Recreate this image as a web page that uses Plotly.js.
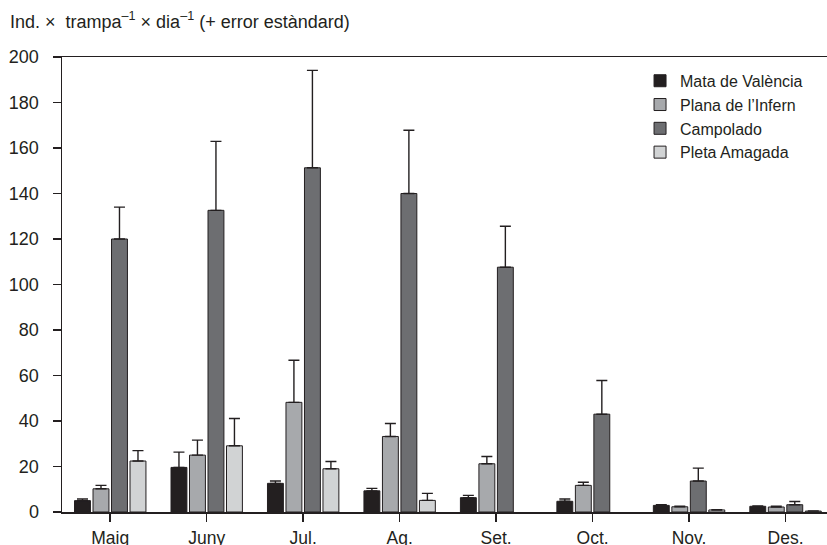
<!DOCTYPE html>
<html>
<head>
<meta charset="utf-8">
<script src="https://cdn.plot.ly/plotly-3.0.1.min.js"></script>
<style>html,body{margin:0;padding:0;background:#fff;}#chart{width:827px;height:545px;}</style>
</head>
<body>
<div id="chart"></div>
<script>
const months = ['Maig','Juny','Jul.','Ag.','Set.','Oct.','Nov.','Des.'];
const seriesNames = ['Mata de València','Plana de l\u2019Infern','Campolado','Pleta Amagada'];
const mata     = [5.0, 19.6, 12.6, 9.3, 6.3, 4.7, 2.9, 2.5];
const mataErr  = [0.7, 6.7, 1.0, 1.1, 1.0, 1.0, 0.3, 0.2];
const plana    = [10.2, 25.0, 48.2, 33.2, 21.2, 11.7, 2.3, 2.2];
const planaErr = [1.5, 6.6, 18.5, 5.7, 3.2, 1.4, 0.3, 0.3];
const campo    = [120.0, 132.6, 151.3, 140.0, 107.6, 43.0, 13.6, 3.2];
const campoErr = [14.0, 30.3, 42.8, 27.8, 18.0, 14.8, 5.7, 1.4];
const pleta    = [22.4, 29.1, 19.0, 5.1, null, null, 0.9, 0.4];
const pletaErr = [4.6, 12.0, 3.2, 3.1, null, null, 0.1, 0.1];
const yTicks = [0, 20, 40, 60, 80, 100, 120, 140, 160, 180, 200];

const colors = ['#231f20', '#a7a9ac', '#6d6e71', '#d1d3d4'];
const ink = '#231f20';
const vals = [mata, plana, campo, pleta];
const errs = [mataErr, planaErr, campoErr, pletaErr];

const traces = vals.map((v, i) => ({
  type: 'bar',
  name: seriesNames[i],
  x: months,
  y: v,
  legendgroup: 'g' + i,
  marker: {color: colors[i], line: {color: ink, width: 1}},
  error_y: {
    type: 'data', symmetric: false,
    array: errs[i], arrayminus: errs[i].map(() => 0),
    color: ink, thickness: 1.4, width: 5.5
  },
  hoverinfo: 'x+y+name'
}));

const font = {family: '"Liberation Sans", Arial, Helvetica, sans-serif', color: ink};

const layout = {
  width: 827, height: 545,
  margin: {l: 62, r: 0, t: 57, b: 33},
  paper_bgcolor: '#fff', plot_bgcolor: '#fff',
  font: Object.assign({size: 16}, font),
  barmode: 'group',
  bargap: 0.233,
  bargroupgap: 0.14,
  showlegend: true,
  legend: {
    x: 0.7556, y: 0.985, xanchor: 'left', yanchor: 'top',
    font: Object.assign({size: 16}, font),
    bgcolor: 'rgba(0,0,0,0)', tracegroupgap: 0, itemwidth: 30
  },
  xaxis: {
    type: 'category',
    range: [-0.5, 7.43],
    showline: true, linecolor: ink, linewidth: 1.5, mirror: true,
    ticks: 'outside', ticklen: 8, tickwidth: 1.5, tickcolor: ink,
    tickfont: Object.assign({size: 17.5}, font),
    showgrid: false, zeroline: false, fixedrange: true,
    ticklabelstandoff: 1
  },
  yaxis: {
    range: [0, 200],
    tickvals: yTicks,
    ticktext: yTicks.map(String),
    showline: true, linecolor: ink, linewidth: 1.5,
    ticks: 'outside', ticklen: 8, tickwidth: 1.5, tickcolor: ink,
    tickfont: Object.assign({size: 18}, font),
    showgrid: false, zeroline: false, fixedrange: true,
    ticklabelstandoff: 10
  },
  annotations: [{
    text: 'Ind. \u00d7\u00a0 trampa<sup>\u20131</sup> \u00d7 dia<sup>\u20131</sup> (+ error est\u00e0ndard)',
    xref: 'paper', yref: 'paper',
    x: -0.0706, y: 1.081, xanchor: 'left', yanchor: 'middle',
    showarrow: false, font: Object.assign({size: 18}, font)
  }]
};

Plotly.newPlot('chart', traces, layout, {displayModeBar: false, staticPlot: true});
</script>
</body>
</html>
